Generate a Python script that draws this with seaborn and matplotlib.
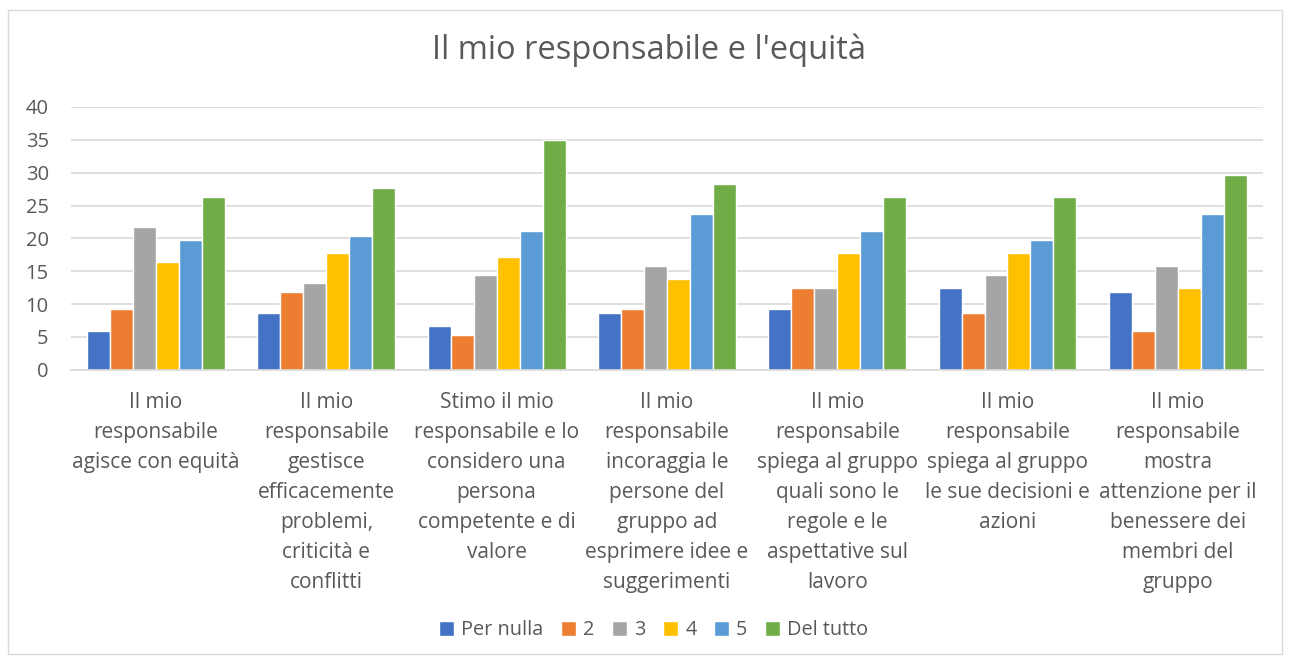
import matplotlib
matplotlib.use("Agg")
import matplotlib.pyplot as plt
import seaborn as sns
import pandas as pd
from matplotlib.patches import Rectangle

# categories (x labels, already wrapped like the original)
categories = [
    "Il mio\nresponsabile\nagisce con equità",
    "Il mio\nresponsabile\ngestisce\nefficacemente\nproblemi,\ncriticità e\nconflitti",
    "Stimo il mio\nresponsabile e lo\nconsidero una\npersona\ncompetente e di\nvalore",
    "Il mio\nresponsabile\nincoraggia le\npersone del\ngruppo ad\nesprimere idee e\nsuggerimenti",
    "Il mio\nresponsabile\nspiega al gruppo\nquali sono le\nregole e le\naspettative sul\nlavoro",
    "Il mio\nresponsabile\nspiega al gruppo\nle sue decisioni e\nazioni",
    "Il mio\nresponsabile\nmostra\nattenzione per il\nbenessere dei\nmembri del\ngruppo",
]
series = ["Per nulla", "2", "3", "4", "5", "Del tutto"]

per_nulla = [5.9, 8.6, 6.6, 8.6, 9.2, 12.5, 11.8]
val_2 = [9.2, 11.8, 5.3, 9.2, 12.5, 8.6, 5.9]
val_3 = [21.7, 13.2, 14.5, 15.8, 12.5, 14.5, 15.8]
val_4 = [16.4, 17.8, 17.1, 13.8, 17.8, 17.8, 12.5]
val_5 = [19.7, 20.4, 21.1, 23.7, 21.1, 19.7, 23.7]
del_tutto = [26.3, 27.6, 35.0, 28.3, 26.3, 26.3, 29.6]

colors = ["#4472C4", "#ED7D31", "#A5A5A5", "#FFC000", "#5B9BD5", "#70AD47"]

values = [per_nulla, val_2, val_3, val_4, val_5, del_tutto]
rows = []
for s, vals in zip(series, values):
    for c, v in zip(categories, vals):
        rows.append({"cat": c, "serie": s, "val": v})
df = pd.DataFrame(rows)

sns.set_style("white")
plt.rcParams['font.family'] = ['Open Sans', 'DejaVu Sans']
text_col = "#595959"

fig = plt.figure(figsize=(12.9, 6.64), dpi=100)
ax = fig.add_axes([0.055, 0.443, 0.924, 0.396])

sns.barplot(data=df, x="cat", y="val", hue="serie", palette=colors,
            saturation=1, width=0.81, edgecolor="white", linewidth=1, ax=ax,
            order=categories, hue_order=series)

ax.set_ylim(0, 40)
ax.set_yticks(range(0, 41, 5))
ax.yaxis.grid(True, color="#d9d9d9", linewidth=1.2)
ax.set_axisbelow(True)
for sp in ["top", "right", "left"]:
    ax.spines[sp].set_visible(False)
ax.spines["bottom"].set_color("#d9d9d9")
ax.spines["bottom"].set_linewidth(1.2)
ax.tick_params(axis="both", length=0, labelcolor=text_col)
ax.tick_params(axis="y", pad=16, labelsize=14.5)
ax.tick_params(axis="x", pad=16, labelsize=15)
ax.set_xticks(range(len(categories)))
ax.set_xticklabels(categories, linespacing=1.56, va="top")
ax.set_xlabel("")
ax.set_ylabel("")

ax.legend(loc="center", bbox_to_anchor=(0.489, -0.99), ncol=6,
          frameon=False, fontsize=14.3, labelcolor=text_col,
          handlelength=0.75, handleheight=0.75, handletextpad=0.35,
          columnspacing=0.9)

fig.text(0.503, 0.924, "Il mio responsabile e l'equità", ha="center",
         va="center", fontsize=23.5, color=text_col)

fig.patches.append(Rectangle((0.006, 0.015), 0.988, 0.97, transform=fig.transFigure,
                             fill=False, edgecolor="#d9d9d9", linewidth=1))

fig.savefig("out.png", dpi=100, facecolor="white")
